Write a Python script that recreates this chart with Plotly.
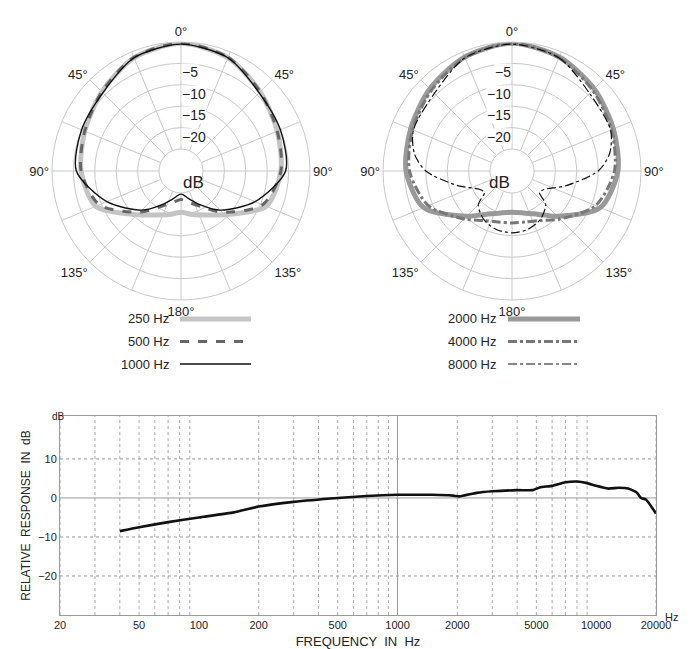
import plotly.graph_objects as go

W, H = 690, 649

# polar patterns, half (0..180 deg), mirrored for the other side
ang_a = [0, 22.5, 45, 67.5, 90, 112.5, 135, 150, 165, 180]
p250 = [-0.3, -1.5, -4.0, -5.8, -6.8, -8.6, -15.7, -18.3, -19.6, -20.5]
p500 = [-0.3, -1.4, -4.0, -5.8, -6.8, -9.5, -16.5, -20.5, -22.5, -23.5]
p1000 = [-0.5, -1.5, -4.3, -5.0, -5.7, -11.4, -17.2, -21.0, -23.5, -24.8]

ang_b = [0, 22.5, 45, 67.5, 90, 112.5, 135, 150, 165, 180]
p2000 = [-0.3, -1.3, -3.0, -4.5, -5.4, -7.8, -15.2, -18.5, -20.0, -20.5]
p4000 = [-0.3, -1.5, -3.5, -5.0, -6.2, -9.0, -14.3, -16.8, -17.8, -18.0]
ang_c = [0, 22.5, 45, 67.5, 80, 90, 105, 120, 128, 135, 150, 165, 180]
p8000 = [-0.5, -1.5, -4.5, -5.2, -7.0, -10.0, -17.0, -21.5, -22.0, -19.0, -17.0, -16.0, -15.7]

# frequency response
freq = [40, 50, 70, 100, 150, 200, 300, 500, 700, 1000, 1500, 1900, 2050, 2500, 3000,
        4000, 4800, 5200, 6000, 7000, 8000, 9000, 10000, 11500, 13000, 14500, 16000,
        16800, 17800, 20000]
resp = [-8.5, -7.5, -6.2, -5.0, -3.7, -2.2, -1.0, 0.0, 0.5, 0.8, 0.8, 0.6, 0.4, 1.3, 1.7,
        2.0, 2.0, 2.7, 3.1, 4.0, 4.2, 3.8, 3.1, 2.4, 2.6, 2.4, 1.4, 0.0, -0.4, -4.0]

ring_vals = [-20, -15, -10, -5]
angle_labels = {0: "0°", 45: "45°", 90: "90°", 135: "135°", 180: "180°", 225: "135°", 270: "90°", 315: "45°"}
x_ticks = [20, 50, 100, 200, 500, 1000, 2000, 5000, 10000, 20000]
y_ticks = [10, 0, -10, -20]


def mirror(a, v):
    th = list(a) + [360 - t for t in reversed(a[:-1])]
    rr = list(v) + list(reversed(v[:-1]))
    return th, rr


def px(x):
    return x / W


def py(y):
    return 1 - y / H


FONT = "Liberation Sans, Arial, sans-serif"
fig = go.Figure()

styles_a = [("250 Hz", ang_a, p250, "#c4c4c4", 5, "solid"),
            ("500 Hz", ang_a, p500, "#666666", 3, "dash"),
            ("1000 Hz", ang_a, p1000, "#111111", 1.4, "solid")]
styles_b = [("2000 Hz", ang_b, p2000, "#999999", 5, "solid"),
            ("4000 Hz", ang_b, p4000, "#777777", 3, "dashdot"),
            ("8000 Hz", ang_c, p8000, "#111111", 1.2, "dashdot")]

for sub, styles in (("polar", styles_a), ("polar2", styles_b)):
    for name, a, v, c, w, d in styles:
        th, rr = mirror(a, v)
        fig.add_trace(go.Scatterpolar(theta=th, r=rr, mode="lines", subplot=sub, name=name,
                                      line=dict(color=c, width=w, dash=d, shape="spline", smoothing=0.8),
                                      showlegend=False))

tv = [i * 22.5 for i in range(16)]
tt = [angle_labels.get(t, "") for t in tv]
R = 129
centers = [(173, 163), (504, 163)]
hole = 22 / R
for i, (cx, cy) in enumerate(centers):
    key = "polar" if i == 0 else "polar2"
    fig.update_layout(**{key: dict(
        domain=dict(x=[px(cx - R), px(cx + R)], y=[py(cy + R), py(cy - R)]),
        hole=hole, bgcolor="white",
        radialaxis=dict(range=[-25, 0], tickvals=[-25] + ring_vals + [0], showticklabels=False,
                        gridcolor="#c8c8c8", gridwidth=1, showline=False, ticks=""),
        angularaxis=dict(rotation=90, direction="clockwise", tickvals=tv, ticktext=tt,
                         gridcolor="#c8c8c8", linecolor="#c8c8c8", ticks="",
                         tickfont=dict(size=13, color="#222", family=FONT)),
    )})
    fig.add_annotation(x=px(cx), y=py(cy), text="dB", showarrow=False, xref="paper", yref="paper",
                       font=dict(size=17, color="#222", family=FONT))
    for v in ring_vals:
        rp = R * hole + (v + 25) / 25 * R * (1 - hole)
        fig.add_annotation(x=px(cx), y=py(cy - rp), text="−" + str(-v), showarrow=False,
                           xref="paper", yref="paper", bgcolor="white", borderpad=0,
                           font=dict(size=14, color="#222", family=FONT))

# legends
for styles, tx, lx0, lx1 in ((styles_a, 163, 172, 243), (styles_b, 490, 500, 572)):
    for k, (name, a, v, c, w, d) in enumerate(styles):
        yy = 311 + k * 22.5
        fig.add_annotation(x=px(tx), y=py(yy), text=name, showarrow=False, xanchor="right",
                           xref="paper", yref="paper", font=dict(size=13, color="#222", family=FONT))
        fig.add_shape(type="line", xref="paper", yref="paper", x0=px(lx0), x1=px(lx1),
                      y0=py(yy), y1=py(yy), line=dict(color=c, width=w, dash=d))

# frequency response
fig.add_trace(go.Scatter(x=freq, y=resp, mode="lines", line=dict(color="#111", width=2.6, shape="spline", smoothing=0.5),
                         showlegend=False, xaxis="x", yaxis="y"))
minor = [m * 10 ** e for e in range(1, 5) for m in range(2, 10) if 20 <= m * 10 ** e <= 20000]
for f in minor:
    if f != 1000:
        fig.add_shape(type="line", xref="x", yref="y", x0=f, x1=f, y0=-30, y1=21, layer="below",
                      line=dict(color="#aaa", width=1, dash="dot"))
fig.add_shape(type="line", xref="x", yref="y", x0=1000, x1=1000, y0=-30, y1=21, layer="below",
              line=dict(color="#999", width=1))
for v in y_ticks:
    fig.add_shape(type="line", xref="x", yref="y", x0=20, x1=20000, y0=v, y1=v, layer="below",
                  line=dict(color="#999", width=1, dash="solid" if v == 0 else "dot"))

fig.update_layout(
    xaxis=dict(type="log", range=[1.30103, 4.30103], domain=[px(52), px(648)], tickvals=x_ticks,
               ticktext=[str(t) for t in x_ticks], showgrid=False, zeroline=False, automargin=False,
               showline=True, linecolor="#999", mirror=True, ticks="",
               tickfont=dict(size=11, color="#222", family=FONT),
               title=dict(text="FREQUENCY  IN  Hz", font=dict(size=13, color="#222", family=FONT), standoff=6)),
    yaxis=dict(range=[-30, 21], domain=[py(607), py(408)], tickvals=y_ticks, showgrid=False,
               zeroline=False, showline=True, linecolor="#999", mirror=True, ticks="", automargin=False,
               tickfont=dict(size=11, color="#222", family=FONT),
               title=dict(text="RELATIVE  RESPONSE  IN  dB", font=dict(size=12, color="#222", family=FONT), standoff=4)),
    width=W, height=H, margin=dict(l=0, r=0, t=0, b=0, autoexpand=False),
    paper_bgcolor="white", plot_bgcolor="white", showlegend=False,
)
fig.add_annotation(x=px(42), y=py(408), text="dB", showarrow=False, xref="paper", yref="paper",
                   font=dict(size=10, color="#222", family=FONT))
fig.add_annotation(x=px(672), y=py(617), text="Hz", showarrow=False, xref="paper", yref="paper",
                   font=dict(size=11, color="#222", family=FONT))

fig.write_html("out.html")
